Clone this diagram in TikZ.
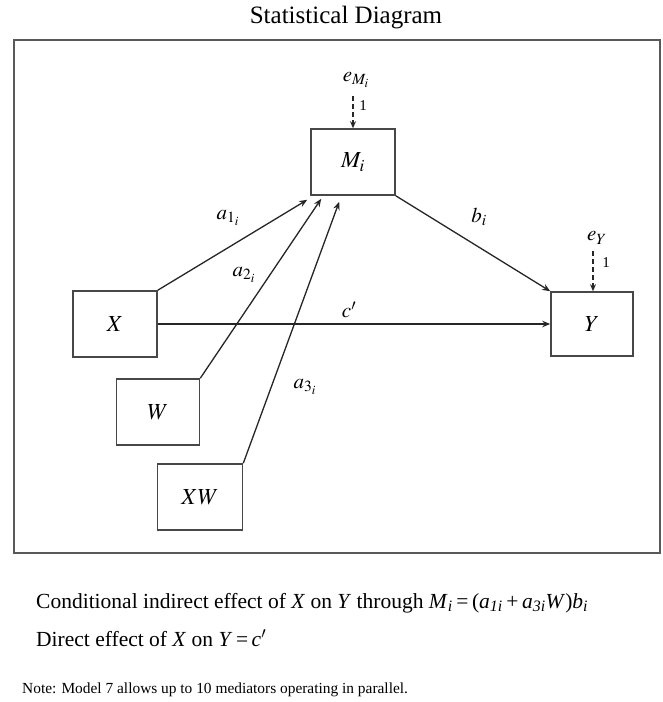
\documentclass[tikz,border=0pt]{standalone}
\usepackage{mathptmx}
\usepackage{fontspec}
\setmainfont{Liberation Serif}
\usetikzlibrary{arrows.meta,calc}
\newcommand{\itx}[1]{\textit{#1}}
\newcommand{\sbx}[1]{\textsubscript{\textit{#1}}}
\begin{document}
\begin{tikzpicture}[x=1pt,y=-1pt,
  box/.style={draw=black!72, line width=1.6pt, minimum width=84pt, minimum height=66pt, inner sep=0pt, font=\fontsize{23}{27}\selectfont},
  lab/.style={inner sep=0pt, font=\fontsize{21}{25}\selectfont},
  one/.style={inner sep=0pt, font=\fontsize{15}{18}\selectfont},
  arr/.style={line width=1.3pt, draw=black!85, -{Stealth[length=8pt,width=6.5pt]}},
  darr/.style={line width=1.3pt, draw=black!85, dash pattern=on 5pt off 3pt, -{Stealth[length=7pt,width=6pt]}},
  txt/.style={inner sep=0pt, anchor=west, font=\fontsize{21.5}{25}\selectfont}]
\useasboundingbox (0,0) rectangle (662,702);
\fill[white] (0,0) rectangle (662,702);
\node[inner sep=0pt, font=\fontsize{25}{29}\selectfont] (title) at (346,18) {Statistical Diagram};
\draw[draw=black!65, line width=1.4pt] (14,40) rectangle (660,553);
\node[box] (M) at (353,162) {$M_i$};
\node[box, minimum width=82pt, minimum height=64pt] (Y) at (592,324) {$Y$};
\node[box] (X) at (115,324) {$X$};
\node[box, minimum width=83pt] (W) at (158,412) {$W$};
\node[box, minimum width=85pt] (XW) at (200,497) {$XW$};
\node[lab] (eM) at (356,80) {$e_{M_i}$};
\node[lab] (eY) at (597,238) {$e_Y$};
\coordinate (eMs) at (353,96);
\coordinate (eYs) at (593,251);
\draw[darr] (eMs) -- (M.north);
\draw[darr] (eYs) -- (Y.north -| eYs);
\node[one] (oneM) at (363,106) {1};
\node[one] (oneY) at (606,263) {1};
\draw[arr] (X.north east) -- ($(M.south west)+(-3,4)$);
\draw[arr] (W.north east) -- ($(M.south west)+(11,3)$);
\draw[arr] (XW.north east) -- ($(M.south west)+(29,6)$);
\draw[arr] (M.south east) -- (Y.north west);
\draw[arr] (X.east) -- (Y.west);
\node[lab] (la1) at (228,218) {$a_{1_i}$};
\node[lab] (la2) at (244,275) {$a_{2_i}$};
\node[lab] (la3) at (305,387) {$a_{3_i}$};
\node[lab] (lc) at (349,310) {$c'$};
\node[lab] (lb) at (479,217) {$b_i$};
\node[txt] (t1) at (36,603) {Conditional indirect effect of \itx{X} on \itx{Y} through \itx{M}\sbx{i}\,=\,(\itx{a}\sbx{1i}\,+\,\itx{a}\sbx{3i}\itx{W})\itx{b}\sbx{i}};
\node[txt] (t2) at (36,638) {Direct effect of \itx{X} on \itx{Y}\,=\,\itx{c}$'$};
\node[txt, font=\fontsize{15.4}{18}\selectfont] (t3) at (22,690) {Note: Model 7 allows up to 10 mediators operating in parallel.};
\end{tikzpicture}
\end{document}
